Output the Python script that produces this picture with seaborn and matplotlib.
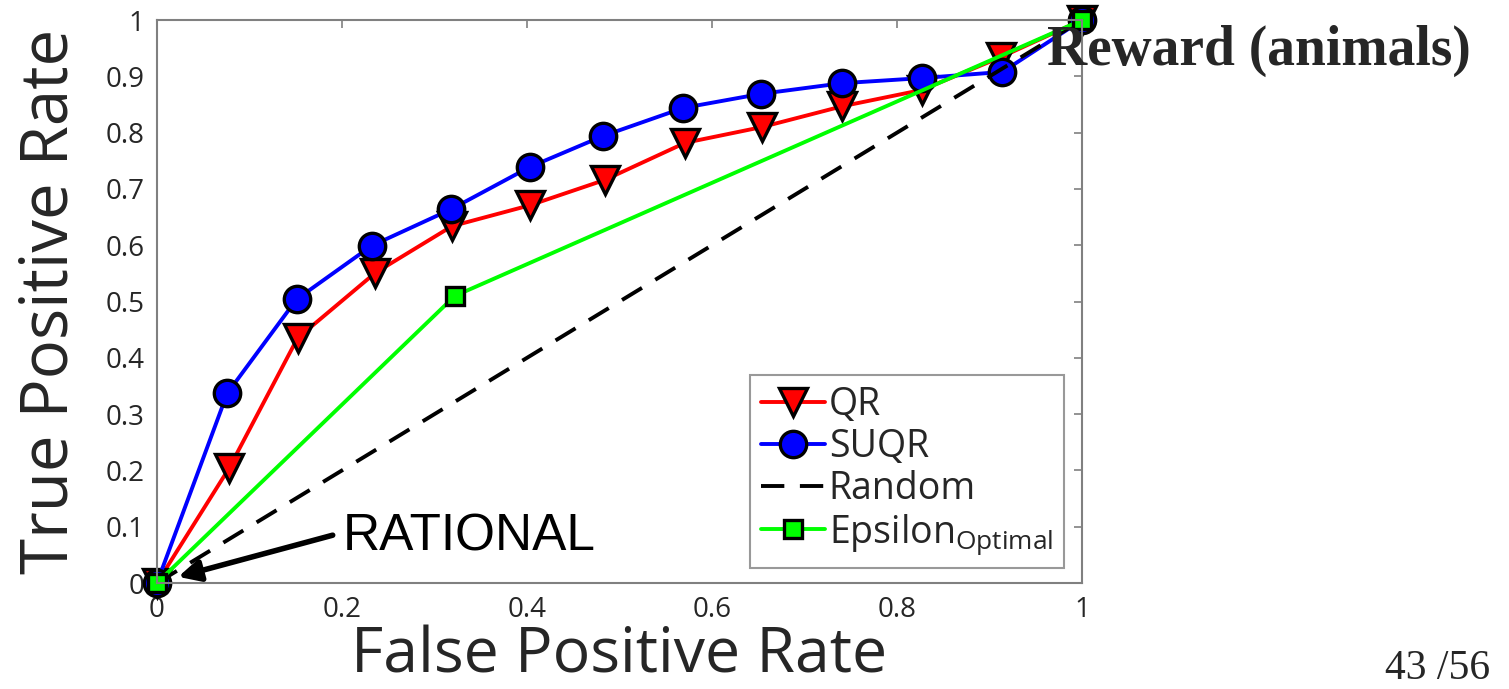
import matplotlib
matplotlib.use("Agg")
import matplotlib.pyplot as plt
import seaborn as sns
import pandas as pd

# ROC points
qr_fpr = [0.0, 0.078, 0.152, 0.236, 0.319, 0.403, 0.484, 0.571, 0.654, 0.741, 0.827, 0.912, 1.0]
qr_tpr = [0.0, 0.204, 0.435, 0.551, 0.634, 0.671, 0.716, 0.782, 0.810, 0.847, 0.876, 0.934, 1.0]

suqr_fpr = [0.0, 0.076, 0.151, 0.232, 0.318, 0.403, 0.482, 0.569, 0.653, 0.741, 0.827, 0.914, 1.0]
suqr_tpr = [0.0, 0.337, 0.504, 0.599, 0.664, 0.739, 0.794, 0.844, 0.869, 0.888, 0.897, 0.908, 1.0]

random_fpr = [0.0, 1.0]
random_tpr = [0.0, 1.0]

eps_fpr = [0.0, 0.322, 1.0]
eps_tpr = [0.0, 0.510, 1.0]

x_ticks = [0, 0.2, 0.4, 0.6, 0.8, 1]
x_tick_labels = ["0", "0.2", "0.4", "0.6", "0.8", "1"]
y_ticks = [0, 0.1, 0.2, 0.3, 0.4, 0.5, 0.6, 0.7, 0.8, 0.9, 1]
y_tick_labels = ["0", "0.1", "0.2", "0.3", "0.4", "0.5", "0.6", "0.7", "0.8", "0.9", "1"]


def main():
    sns.set_style("white")
    plt.rcParams["font.family"] = ["Open Sans", "DejaVu Sans"]
    plt.rcParams["mathtext.fontset"] = "custom"
    plt.rcParams["mathtext.rm"] = "Open Sans"
    plt.rcParams["mathtext.it"] = "Open Sans"

    fig = plt.figure(figsize=(15.09, 6.89), dpi=100)
    ax = fig.add_axes([0.104, 0.1538, 0.613, 0.817])

    qr = pd.DataFrame({"fpr": qr_fpr, "tpr": qr_tpr})
    suqr = pd.DataFrame({"fpr": suqr_fpr, "tpr": suqr_tpr})
    rnd = pd.DataFrame({"fpr": random_fpr, "tpr": random_tpr})
    eps = pd.DataFrame({"fpr": eps_fpr, "tpr": eps_tpr})

    sns.lineplot(data=qr, x="fpr", y="tpr", ax=ax, color="#ff0000", lw=2.8,
                 marker="v", markersize=20, markerfacecolor="#ff0000",
                 markeredgecolor="black", markeredgewidth=2.4, label="QR",
                 clip_on=False)
    sns.lineplot(data=suqr, x="fpr", y="tpr", ax=ax, color="#0000ff", lw=2.8,
                 marker="o", markersize=19, markerfacecolor="#0000ff",
                 markeredgecolor="black", markeredgewidth=2.4, label="SUQR",
                 clip_on=False)
    sns.lineplot(data=rnd, x="fpr", y="tpr", ax=ax, color="black", lw=2.8,
                 linestyle=(0, (6, 4)), label="Random")
    sns.lineplot(data=eps, x="fpr", y="tpr", ax=ax, color="#00ff00", lw=2.8,
                 marker="s", markersize=13, markerfacecolor="#00ff00",
                 markeredgecolor="black", markeredgewidth=2.4,
                 label="Epsilon$_{\\mathrm{Optimal}}$", clip_on=False)

    ax.set_xlim(0, 1)
    ax.set_ylim(0, 1)
    ax.set_xticks(x_ticks)
    ax.set_xticklabels(x_tick_labels)
    ax.set_yticks(y_ticks)
    ax.set_yticklabels(y_tick_labels)
    ax.tick_params(direction="in", length=6, width=1.2, color="#808080",
                   labelsize=20, labelcolor="#262626", top=True, right=True,
                   pad=9)
    for sp in ax.spines.values():
        sp.set_color("#808080")
        sp.set_linewidth(1.5)
        sp.set_visible(True)

    ax.set_xlabel("False Positive Rate", fontsize=45, color="#262626", labelpad=1)
    ax.set_ylabel("True Positive Rate", fontsize=47, color="#262626", labelpad=16)

    leg = ax.legend(loc="lower right", bbox_to_anchor=(0.981, 0.027),
                    fontsize=27, frameon=True, fancybox=False,
                    handlelength=1.7, handletextpad=0.1, labelspacing=0.1,
                    borderpad=0.3, borderaxespad=0)
    leg.get_frame().set_edgecolor("#808080")
    leg.get_frame().set_linewidth(1.5)

    # RATIONAL annotation pointing at the origin
    ax.annotate("", xy=(0.023, 0.011), xytext=(0.19, 0.085),
                arrowprops=dict(arrowstyle="-|>", lw=4, color="black",
                                mutation_scale=32, shrinkA=0, shrinkB=0))
    ax.text(0.201, 0.082, "RATIONAL", fontsize=37, va="center", ha="left",
            family=["Liberation Sans", "DejaVu Sans"], color="black")

    fig.text(1047 / 1509, 0.906, "Reward (animals)", fontsize=40,
             fontweight="bold", family=["Liberation Serif", "DejaVu Serif"],
             ha="left", va="baseline")
    fig.text(1385 / 1509, 10 / 689, "43 /56", fontsize=30,
             family=["Liberation Serif", "DejaVu Serif"], ha="left",
             va="baseline")

    fig.savefig("out.png", dpi=100)
    plt.close(fig)


if __name__ == "__main__":
    main()
